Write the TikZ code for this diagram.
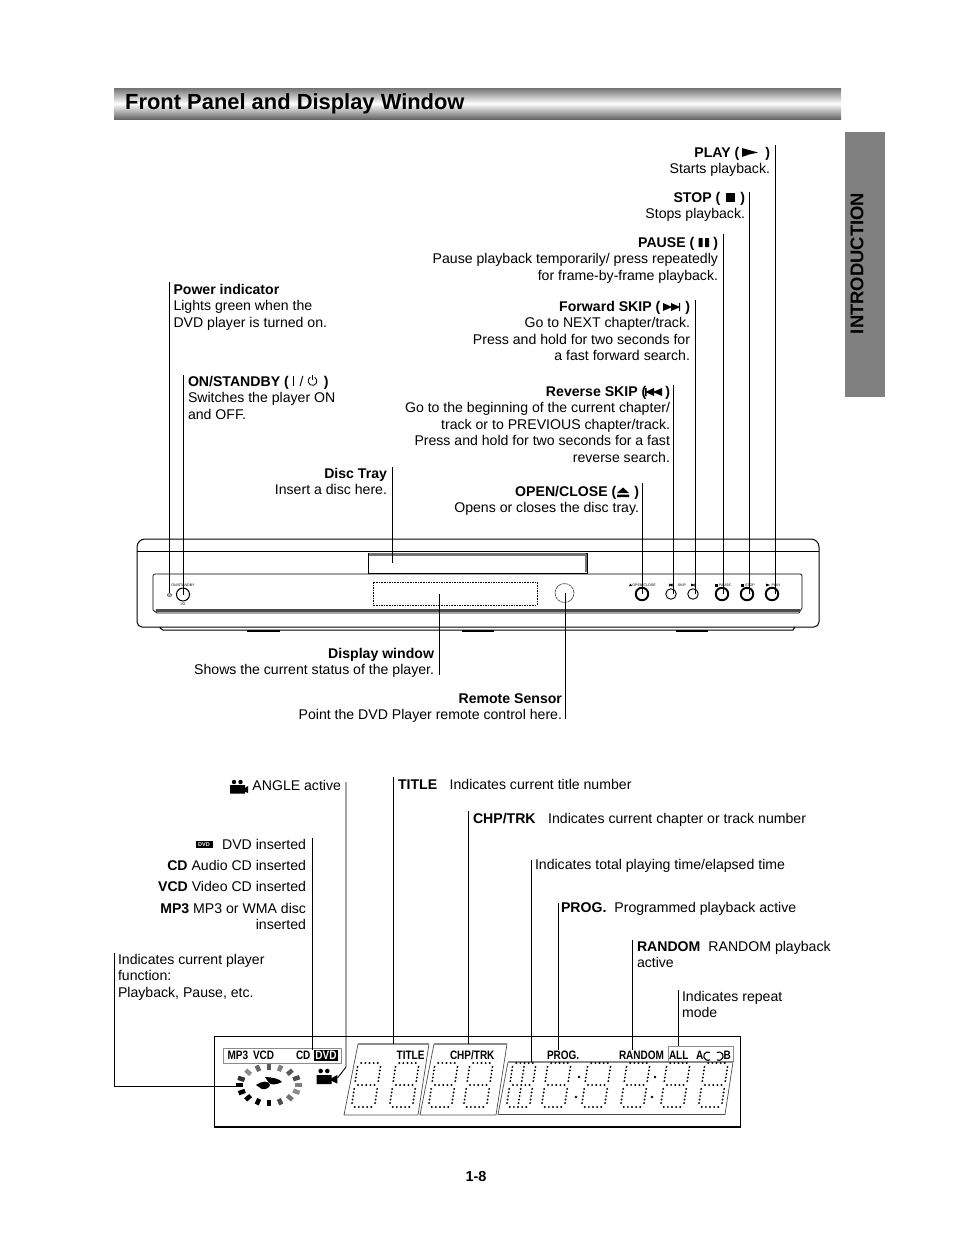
\documentclass[tikz,border=0pt]{standalone}
\usepackage{fontspec}
\setmainfont{Liberation Sans}
\newfontfamily\cond[FakeStretch=0.82]{Liberation Sans}
\usetikzlibrary{calc,shapes.geometric}
\definecolor{tabgray}{gray}{0.5}
\definecolor{edgegray}{gray}{0.55}
\tikzset{
 body/.style={inner sep=0pt,outer sep=0pt,font=\fontsize{14.1}{16.55}\selectfont},
 lefttext/.style={body,anchor=north west,align=left},
 righttext/.style={body,anchor=north east,align=right},
 leader/.style={draw=black,line width=0.9pt},
 device/.style={draw=black,line width=1pt},
 thin gray/.style={draw=edgegray,line width=0.8pt},
 lcd/.style={draw=black!70,line width=0.7pt},
 btn/.style={circle,draw=black,line width=1.9pt,fill=white,inner sep=0pt,outer sep=0pt},
 btnsmall/.style={circle,draw=black,line width=0.9pt,fill=white,inner sep=0pt,outer sep=0pt},
 tiny/.style={inner sep=0pt,outer sep=0pt,font=\fontsize{3.6}{4}\selectfont},
 panellabel/.style={inner sep=0pt,outer sep=0pt,font=\cond\bfseries\fontsize{12.2}{12.5}\selectfont},
 lcddot/.style={fill=black,draw=none},
}
\newcommand{\TL}[4]{\node[lefttext] (#1) at (#2,#3-6.5) {\strut #4};}
\newcommand{\TR}[4]{\node[righttext] (#1) at (#2,#3-6.5) {\strut #4};}
% seven segment dots: top-left x, optional centre column flag
\newcommand{\dotdigit}[2]{%
 \foreach \s in {0,0.5,1}{\foreach \t in {0.14,0.32,0.5,0.68,0.86}{\fill[lcddot] (#1+\t*23-\s*6.5,1063+\s*44) circle (1.1);}}%
 \foreach \t in {0,1}{\foreach \s in {0.09,0.17,0.25,0.33,0.41,0.59,0.67,0.75,0.83,0.91}{\fill[lcddot] (#1+\t*23-\s*6.5,1063+\s*44) circle (1.1);}}%
 \ifnum#2=1 \foreach \s in {0.09,0.17,0.25,0.33,0.41,0.59,0.67,0.75,0.83,0.91}{\fill[lcddot] (#1+11.5-\s*6.5,1063+\s*44) circle (1.1);}\fi
}
\begin{document}
\begin{tikzpicture}[x=1pt,y=-1pt]
\useasboundingbox (0,0) rectangle (954,1235);
% title bar
\shade[top color=black!55,bottom color=black!60,middle color=white] (114,88) rectangle (841,119);
\node[inner sep=0pt,anchor=base west,font=\bfseries\fontsize{21.9}{24}\selectfont] (title) at (125,109) {Front Panel and Display Window};
% side tab
\fill[tabgray] (845,132) rectangle (885,397);
\node[inner sep=0pt,rotate=90,font=\bfseries\fontsize{18.4}{20}\selectfont] (tab) at (857,263.5) {INTRODUCTION};
% upper texts
\TR{tplay}{770}{152}{\textbf{PLAY (\hspace{26pt})}\\Starts playback.}
\TR{tstop}{745}{197}{\textbf{STOP (\hspace{20pt})}\\Stops playback.}
\TR{tpause}{718}{242}{\textbf{PAUSE (\hspace{19pt})}\\Pause playback temporarily/ press repeatedly\\for frame-by-frame playback.}
\TR{tfwd}{690}{306}{\textbf{Forward SKIP (\hspace{25pt})}\\Go to NEXT chapter/track.\\Press and hold for two seconds for\\a fast forward search.}
\TR{trev}{670}{391}{\textbf{Reverse SKIP (\hspace{19pt})}\\Go to the beginning of the current chapter/\\track or to PREVIOUS chapter/track.\\Press and hold for two seconds for a fast\\reverse search.}
\TR{topen}{639}{491}{\textbf{OPEN/CLOSE (\hspace{18pt})}\\Opens or closes the disc tray.}
\TR{ttray}{387}{473}{\textbf{Disc Tray}\\Insert a disc here.}
\TR{tdisp}{434}{653}{\textbf{Display window}\\Shows the current status of the player.}
\TR{tsens}{562}{698}{\textbf{Remote Sensor}\\Point the DVD Player remote control here.}
\TL{tpow}{173.5}{289}{\textbf{Power indicator}\\Lights green when the\\DVD player is turned on.}
\TL{tstby}{188}{381}{\textbf{ON/STANDBY (\hspace{35pt})}\\Switches the player ON\\and OFF.}
% inline icons
\fill (742,148) -- (749,150) -- (758,152.5) -- (749,154.5) -- (742,157) -- cycle;
\fill (725.5,193) rectangle (734.5,201.5);
\fill (698.5,238) rectangle (702.5,247) (705,238) rectangle (709,247);
\fill (663,303) -- (671,306.5) -- (671,303) -- (679,306.5) -- (679,303) -- (680,303) -- (680,311) -- (679,311) -- (679,307.5) -- (671,311) -- (671,307.5) -- (663,311) -- cycle;
\fill (645,388) -- (646.5,388) -- (646.5,391.5) -- (654,388) -- (654,391.5) -- (662,388) -- (662,396) -- (654,392.5) -- (654,396) -- (646.5,392.5) -- (646.5,396) -- (645,396) -- cycle;
\fill (623,487.5) -- (629,493) -- (617,493) -- cycle (617,494.5) rectangle (629,497);
\draw[line width=0.6pt] (293.5,376) -- (293.5,386);
\node[inner sep=0pt,font=\fontsize{14}{14}\selectfont] (slash) at (301.5,381) {/};
\draw[line width=0.8pt] (314.7,377.2) arc[start angle=-60,end angle=240,radius=4.4];
\draw[line width=0.8pt] (312.5,375) -- (312.5,380);
% device
\draw[device] (137,547) arc[start angle=180,end angle=270,radius=8] -- (811,539) arc[start angle=-90,end angle=0,radius=8] -- (819,622) arc[start angle=0,end angle=90,radius=5] -- (142,627) arc[start angle=90,end angle=180,radius=5] -- cycle;
\draw[device] (137,551) -- (819,551);
\draw[device] (160,627) -- (160,628) -- (163,630) -- (793,630) -- (795,627);
\foreach \a/\b in {247/280,462/494,676/708}{\fill (\a,630) rectangle (\b,632);}
% panel
\draw[device,line width=0.7pt] (153,610) -- (153,576) arc[start angle=180,end angle=270,radius=2] -- (800,574) arc[start angle=-90,end angle=0,radius=2] -- (802,608) -- (799,613);
\draw[draw=black!70,line width=3pt] (156,610.5) -- (800,610.5);
\draw[device,line width=0.7pt] (153,610) -- (157,613) -- (799,613);
% tray
\draw[device,line width=0.8pt] (368,553) rectangle (587,573);
\draw[draw=black!55,line width=2.2pt] (369,554.5) -- (586,554.5);
\draw[draw=black!55,line width=1.4pt] (586,554) -- (586,572);
\node[inner sep=0pt,outer sep=0pt,minimum width=219pt,minimum height=20pt] (tray) at (477.5,563) {};
% display window
\draw[device,line width=0.8pt,dash pattern=on 1.6pt off 1pt] (373,582) rectangle (537,605);
\node[inner sep=0pt,outer sep=0pt,minimum width=164pt,minimum height=23pt] (dispwin) at (455,593.5) {};
% sensor
\node[circle,draw=black!70,line width=0.7pt,dash pattern=on 3pt off 0.7pt,minimum size=19pt,inner sep=0pt,outer sep=0pt] (sensor) at (564.5,593) {};
% LED and buttons
\node[ellipse,draw=black!70,fill=black!30,minimum width=4.5pt,minimum height=3pt,inner sep=0pt] (led) at (169.5,595) {};
\node[btnsmall,minimum size=13pt,line width=1pt] (bstby) at (183,594.5) {};
\node[btn,minimum size=12.5pt] (bopen) at (642,594) {};
\node[btnsmall,minimum size=10.5pt] (brev) at (671,594) {};
\node[btnsmall,minimum size=10.5pt] (bfwd) at (693,594) {};
\node[btn,minimum size=12.5pt] (bpause) at (722,594) {};
\node[btn,minimum size=12.5pt] (bstop) at (747,594) {};
\node[btn,minimum size=12.5pt] (bplay) at (772,594) {};
\node[tiny] (l1) at (183,585) {ON/STANDBY};
\node[tiny] (l2) at (183,604.5) {I/O};
\node[tiny] (l3) at (644,585) {OPEN/CLOSE};
\node[tiny] (l5) at (682,585) {SKIP};
\node[tiny] (l6) at (725,585) {PAUSE};
\node[tiny] (l7) at (750,585) {STOP};
\node[tiny] (l8) at (776,585) {PLAY};
\fill (630.5,583.5) -- (632,586) -- (629,586) -- cycle;
\fill (669,583.5) -- (669.6,583.5) -- (669.6,584.6) -- (672.5,583.5) -- (672.5,586.5) -- (669.6,585.4) -- (669.6,586.5) -- (669,586.5) -- cycle;
\fill (691,583.5) -- (694,584.6) -- (694,583.5) -- (694.6,583.5) -- (694.6,586.5) -- (694,586.5) -- (694,585.4) -- (691,586.5) -- cycle;
\fill (715,583.5) rectangle (717.5,586.5);
\fill (741,583.5) rectangle (744,586.5);
\fill (766,583.5) -- (770,585) -- (766,586.5) -- cycle;
% leaders upper
\coordinate (cplay) at (775.5,145);
\coordinate (cstop) at (749,192);
\coordinate (cpause) at (723.5,234);
\coordinate (cfwd) at (695,300);
\coordinate (crev) at (673.5,385);
\coordinate (copen) at (642,483);
\coordinate (ctray) at (392,467);
\coordinate (cpow) at (169.5,282);
\coordinate (cstby) at (183.5,375);
\coordinate (cdisp) at (439.5,675);
\coordinate (csens) at (565.5,719);
\draw[leader] (cplay) -- (cplay |- bplay.center);
\draw[leader] (cstop) -- (cstop |- bstop.center);
\draw[leader] (cpause) -- (cpause |- bpause.center);
\draw[leader] (cfwd) -- (cfwd |- bfwd.center);
\draw[leader] (crev) -- (crev |- brev.center);
\draw[leader] (copen) -- (copen |- bopen.center);
\draw[leader] (ctray) -- (ctray |- tray.center);
\draw[leader] (cpow) -- (cpow |- led.north);
\draw[leader] (cstby) -- (cstby |- bstby.center);
\draw[leader] (cdisp) -- (cdisp |- dispwin.center);
\draw[leader] (csens) -- (csens |- sensor.center);
% lower texts
\TR{tang}{341}{785}{ANGLE active}
\TL{ttitle}{398}{784}{\textbf{TITLE}\hspace{12.5pt}Indicates current title number}
\TL{tchp}{473}{818}{\textbf{CHP/TRK}\hspace{12.5pt}Indicates current chapter or track number}
\TL{ttime}{535}{864}{Indicates total playing time/elapsed time}
\TL{tprog}{561}{907}{\textbf{PROG.}\hspace{8pt}Programmed playback active}
\TL{trand}{637}{946}{\textbf{RANDOM}\hspace{8pt}RANDOM playback\\active}
\TL{trep}{682}{996}{Indicates repeat\\mode}
\TL{tfunc}{118}{959}{Indicates current player\\function:\\Playback, Pause, etc.}
\TR{tdvd}{306}{844}{DVD inserted}
\TR{tcd}{306}{865}{\textbf{CD} Audio CD inserted}
\TR{tvcd}{306}{886}{\textbf{VCD} Video CD inserted}
\TR{tmp3}{306}{908}{\textbf{MP3} MP3 or WMA disc\\inserted}
% camera icon in text
\fill (230,785) rectangle (245,793.5) (245,788) -- (248,786) -- (248,793) -- (245,791.5) -- cycle;
\fill (234,782) circle (2.2) (240.5,782) circle (2.2);
% DVD icon in text
\node[fill=black,text=white,inner sep=0pt,minimum width=17pt,minimum height=7pt,font=\bfseries\fontsize{5.5}{6}\selectfont] (dvdmini) at (204,844.5) {DVD};
% LCD frame
\draw[line width=0.7pt] (214,1127) -- (214,1036.5) -- (740.5,1036.5) -- (740.5,1127);
\draw[line width=1.6pt] (213.7,1127) -- (740.8,1127);
% MP3 box
\draw[thin gray,line width=1pt] (223,1048) rectangle (341,1063);
\node[panellabel,anchor=base west] (mp3) at (227.5,1059) {MP3\hspace{5pt}VCD};
\node[panellabel,anchor=base west] (cd) at (296,1059) {CD};
\node[panellabel,fill=black,text=white,minimum width=24pt,minimum height=11pt] (dvd) at (326,1055.5) {DVD};
% disc ring
\foreach \a/\g in {0/50,22/55,45/45,68/30,90/0,112/0,135/0,157/0,180/0,200/20,225/55,248/40,270/35,292/50,315/35,338/30}{
 \pgfmathtruncatemacro{\k}{100-\g}
 \draw[line width=4.4pt,draw=black!\k] ({269+26*cos(\a)},{1085+15*sin(\a)}) -- ({269+33*cos(\a)},{1085+21*sin(\a)});
}
\fill (256,1085) .. controls (262,1081) and (268,1080) .. (270,1085) .. controls (270,1088) and (262,1092) .. (259,1087) -- cycle;
\fill (265,1077) .. controls (272,1077) and (280,1079) .. (282,1082) .. controls (276,1085) and (271,1085) .. (269,1083) -- cycle;
% camera icon on LCD
\fill (316.7,1075) rectangle (331.7,1084) (331.7,1078) -- (337.3,1075) -- (337.3,1083.5) -- (331.7,1081) -- cycle;
\fill (320.7,1071) circle (2.3) (327.3,1071) circle (2.3);
\coordinate (ccam) at (337.5,1078);
% panels
\draw[lcd] (429,1044) -- (418,1115) -- (344,1115) -- (358,1044);
\draw[thin gray,line width=1.4pt] (357.5,1044) -- (429,1044);
\draw[lcd] (507,1044) -- (496,1115) -- (420,1115) -- (434,1044);
\draw[thin gray,line width=1.4pt] (433.5,1044) -- (507,1044);
\draw[lcd] (508,1062) -- (498,1114.5) -- (725,1114.5) -- (733,1062);
\draw[thin gray,line width=1.2pt] (507.5,1062) -- (733,1062);
\node[panellabel,anchor=base east] (ptitle) at (424.5,1059) {TITLE};
\node[panellabel,anchor=base west] (pchp) at (450,1059) {CHP/TRK};
\node[panellabel,anchor=base west] (pprog) at (547,1059) {PROG.};
\node[panellabel,anchor=base west] (prand) at (619,1059) {RANDOM};
\draw[thin gray,line width=1pt] (668,1046) rectangle (733,1061);
\node[panellabel,anchor=base west] (pall) at (669,1059) {ALL};
\node[panellabel,anchor=base west] (pa) at (696,1059.5) {A};
\node[panellabel,anchor=base west] (pb) at (723.5,1059.5) {B};
\draw[line width=1.1pt] (710,1052.5) arc[start angle=-60,end angle=-300,radius=4.2];
\draw[line width=1.1pt] (716.9,1052.5) arc[start angle=-120,end angle=120,radius=4.2];
% digits
\dotdigit{358}{0}
\dotdigit{396}{0}
\dotdigit{435}{0}
\dotdigit{470}{0}
\dotdigit{513}{1}
\dotdigit{548}{0}
\dotdigit{588}{0}
\dotdigit{627}{0}
\dotdigit{667}{0}
\dotdigit{705}{0}
\fill (579,1077) circle (1.3) (576,1097) circle (1.3) (655,1077) circle (1.3) (652,1097) circle (1.3);
% lower leaders
\coordinate (ldvd) at (312.5,838);
\coordinate (lang) at (346,782);
\coordinate (lkink) at (346,1067);
\coordinate (ltitle) at (393,777);
\coordinate (lchp) at (468.5,811);
\coordinate (ltime) at (531.5,860);
\coordinate (lprog) at (558,903);
\coordinate (lrand) at (632.5,940);
\coordinate (lrep) at (678,990);
\coordinate (lfunc) at (114,953);
\coordinate (lfunk) at (114,1086.5);
\coordinate (lfune) at (236,1086.5);
\draw[leader] (ldvd) -- (ldvd |- mp3.north);
\draw[leader] (lang) -- (lkink) -- (ccam);
\draw[leader] (ltitle) -- (393,1044);
\draw[leader] (lchp) -- (468.5,1044);
\draw[leader] (ltime) -- (531.5,1062);
\draw[leader] (lprog) -- (lprog |- pprog.north);
\draw[leader] (lrand) -- (lrand |- prand.north);
\draw[leader] (lrep) -- (678,1046);
\draw[leader] (lfunc) -- (lfunk) -- (lfune);
% page number
\node[inner sep=0pt,font=\bfseries\fontsize{14.5}{16}\selectfont] (page) at (476,1176) {1-8};
\end{tikzpicture}
\end{document}
